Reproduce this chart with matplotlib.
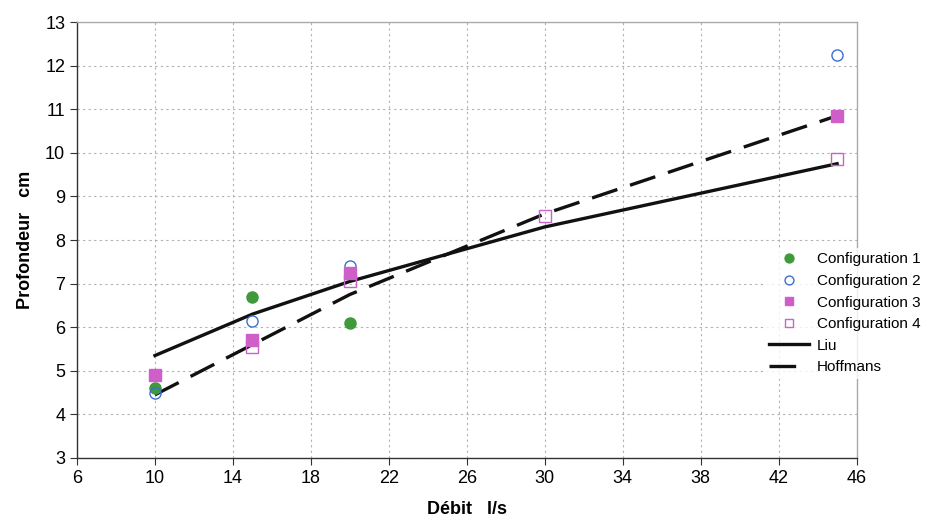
import matplotlib
matplotlib.use('Agg')
import matplotlib.pyplot as plt

plt.rcParams['font.family'] = ['Liberation Sans Narrow', 'Liberation Sans', 'DejaVu Sans']

# measured points (débit l/s, profondeur cm)
c1_x = [10, 15, 20]
c1_y = [4.6, 6.7, 6.1]
c2_x = [10, 15, 20, 45]
c2_y = [4.5, 6.15, 7.4, 12.25]
c3_x = [10, 15, 20, 45]
c3_y = [4.9, 5.7, 7.25, 10.85]
c4_x = [15, 20, 30, 45]
c4_y = [5.55, 7.05, 8.55, 9.85]

# formulas
liu_x = [10, 15, 20, 30, 45]
liu_y = [5.35, 6.3, 7.05, 8.3, 9.75]
hof_x = [10, 15, 20, 30, 45]
hof_y = [4.45, 5.6, 6.75, 8.6, 10.85]

xticks = list(range(6, 47, 4))
yticks = list(range(3, 14))

fig = plt.figure(figsize=(9.28, 5.31), dpi=100)
ax = fig.add_axes([0.083, 0.1375, 0.840, 0.821])

ax.plot(liu_x, liu_y, color='#111111', lw=2.4, label='Liu', zorder=3)
ax.plot(hof_x, hof_y, color='#111111', lw=2.4, dashes=(8, 4), label='Hoffmans', zorder=3)

ax.plot(c1_x, c1_y, 'o', color='#3f9a3a', ms=8, label='Configuration 1', zorder=4)
ax.plot(c2_x, c2_y, 'o', mfc='none', mec='#3c6fd2', mew=1.0, ms=8, label='Configuration 2', zorder=4)
ax.plot(c3_x, c3_y, 's', color='#d05ec8', ms=8, label='Configuration 3', zorder=4)
ax.plot(c4_x, c4_y, 's', mfc='none', mec='#c864c8', mew=1.0, ms=8, label='Configuration 4', zorder=4)

ax.set_xlim(6, 46)
ax.set_ylim(3, 13)
ax.set_xticks(xticks)
ax.set_yticks(yticks)
ax.tick_params(labelsize=13, length=5, direction='out', color='#333333')
ax.grid(True, color='#b0b0b0', ls=(0, (2, 3)), lw=0.8)

for s in ['top', 'right']:
    ax.spines[s].set_color('#aaaaaa')
    ax.spines[s].set_linewidth(1.0)
for s in ['left', 'bottom']:
    ax.spines[s].set_color('#333333')
    ax.spines[s].set_linewidth(1.0)

ax.set_xlabel('Débit   l/s', fontsize=13, fontweight='bold', labelpad=10)
ax.set_ylabel('Profondeur   cm', fontsize=13, fontweight='bold', labelpad=8)

h, l = ax.get_legend_handles_labels()
order = [2, 3, 4, 5, 0, 1]
leg = fig.legend([h[i] for i in order], [l[i] for i in order],
                 loc='upper left', bbox_to_anchor=(0.816, 0.548),
                 frameon=True, fontsize=11, handlelength=2.6, markerscale=0.8,
                 labelspacing=0.5, handletextpad=0.5, borderpad=0.3)
leg.get_frame().set_edgecolor('none')
leg.get_frame().set_facecolor('white')

fig.savefig('out.png', dpi=100)
